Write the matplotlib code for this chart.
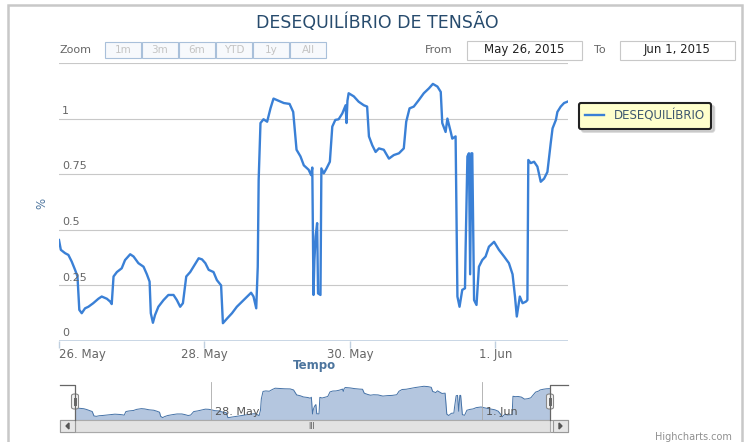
import matplotlib
matplotlib.use("Agg")
import matplotlib.pyplot as plt
from matplotlib.patches import Rectangle, FancyBboxPatch, Polygon
from matplotlib.lines import Line2D

# hours since 26 May 2015 00:00 and imbalance in %
horas = [0, 0.6, 2.0, 3.1, 4.2, 5.3, 6.1, 6.7, 7.5, 8.6, 9.7, 11.3, 13.0, 14.1, 15.8,
         16.9, 17.4, 18.0, 19.1, 20.7, 21.8, 23.5, 24.6, 26.2, 27.9, 29.0, 29.9, 30.3,
         31.0, 31.7, 32.8, 34.5, 36.1, 37.8, 38.9, 40.0, 40.9, 42.0, 43.3, 44.4, 46.1,
         47.2, 48.3, 49.4, 51.0, 52.1, 53.5, 54.1, 55.4, 57.1, 58.7, 60.4, 62.1, 63.4,
         64.2, 65.1, 65.6, 65.9, 66.5, 67.5, 68.7, 69.8, 70.8, 72.5, 74.2, 76.1, 77.3,
         78.4, 79.7, 80.8, 82.4, 83.2, 83.6, 84.0, 84.3, 84.7, 85.2, 85.5, 86.3, 86.6,
         87.4, 88.3, 89.4, 90.2, 91.2, 92.3, 93.5, 94.6, 94.9, 95.2, 95.6, 97.3, 98.9,
         100.6, 101.7, 102.3, 103.4, 104.5, 105.6, 107.2, 108.9, 110.5, 112.2, 113.8,
         114.6, 115.7, 117.1, 118.8, 120.4, 122.1, 123.4, 124.9, 126.0, 126.5, 127.6,
         128.2, 129.3, 129.8, 130.9, 131.5, 132.2, 133.1, 134.0, 134.2, 134.8, 135.3,
         135.7, 136.1, 136.4, 137.0, 137.8, 138.6, 139.7, 140.8, 141.9, 143.6, 145.2,
         146.9, 148.5, 149.7, 150.5, 151.1, 152.1, 153.0, 154.1, 154.6, 154.9, 155.7,
         156.8, 157.9, 159.0, 160.1, 161.2, 162.3, 162.9, 164.0, 164.5, 165.6, 166.7,
         167.8]
desequilibrio = [0.454, 0.41, 0.395, 0.387, 0.357, 0.32, 0.29, 0.14, 0.125, 0.147, 0.154,
                 0.17, 0.19, 0.20, 0.19, 0.177, 0.166, 0.29, 0.31, 0.327, 0.364, 0.39,
                 0.38, 0.35, 0.334, 0.30, 0.267, 0.125, 0.082, 0.117, 0.154, 0.184, 0.207,
                 0.207, 0.184, 0.154, 0.17, 0.29, 0.31, 0.334, 0.372, 0.367, 0.35, 0.32,
                 0.31, 0.274, 0.25, 0.08, 0.10, 0.125, 0.154, 0.177, 0.20, 0.217, 0.20,
                 0.147, 0.334, 0.724, 0.98, 0.997, 0.986, 1.046, 1.09, 1.08, 1.07, 1.066,
                 1.03, 0.86, 0.83, 0.79, 0.77, 0.746, 0.78, 0.207, 0.364, 0.47, 0.53,
                 0.214, 0.207, 0.776, 0.754, 0.776, 0.806, 0.964, 0.994, 0.997, 1.023,
                 1.06, 0.98, 1.08, 1.114, 1.10, 1.076, 1.06, 1.054, 0.92, 0.88, 0.85,
                 0.866, 0.86, 0.82, 0.836, 0.844, 0.866, 0.986, 1.046, 1.054, 1.084,
                 1.114, 1.136, 1.156, 1.144, 1.12, 0.98, 0.94, 1.00, 0.94, 0.91, 0.92,
                 0.20, 0.154, 0.23, 0.237, 0.41, 0.83, 0.844, 0.30, 0.844, 0.844, 0.184,
                 0.162, 0.334, 0.364, 0.38, 0.424, 0.446, 0.41, 0.38, 0.35, 0.30, 0.20,
                 0.11, 0.20, 0.17, 0.177, 0.184, 0.814, 0.80, 0.806, 0.784, 0.716, 0.73,
                 0.76, 0.89, 0.956, 0.994, 1.03, 1.054, 1.07, 1.076]

ticks_x = [0, 48, 96, 144]
rotulos_x = ['26. May', '28. May', '30. May', '1. Jun']
ticks_y = [0, 0.25, 0.5, 0.75, 1]
rotulos_y = ['0', '0.25', '0.5', '0.75', '1']
nav_ticks = [48, 144]
nav_rotulos = ['28. May', '1. Jun']

W, H = 749, 442
fig = plt.figure(figsize=(W / 100, H / 100), dpi=100)
fig.patch.set_facecolor('white')


def fx(px):
    return px / W


def fy(py):
    return 1 - py / H


cor_linha = '#3a80d6'
cinza = '#666666'

# moldura externa
fig.add_artist(Rectangle((fx(8), fy(445)), fx(734), fy(5) - fy(445), fill=False,
                         edgecolor='#c8c8c8', linewidth=1.8, transform=fig.transFigure))

# grafico principal
ax = fig.add_axes([fx(59), fy(341), fx(568 - 59), fy(63) - fy(341)])
ax.plot(horas, desequilibrio, color=cor_linha, linewidth=1.7, label='DESEQUILÍBRIO')
ax.set_xlim(0, 168)
ax.set_ylim(0, 1.25)
for s in ax.spines.values():
    s.set_visible(False)
for v in [0.25, 0.5, 0.75, 1.0, 1.25]:
    ax.axhline(v, color='#c8c8c8', linewidth=0.8, zorder=0)
ax.axhline(0, color='#c0d0e0', linewidth=1.2, zorder=0)
ax.set_yticks([])
ax.set_xticks(ticks_x)
ax.set_xticklabels([])
ax.tick_params(axis='x', length=5, color='#c0d0e0', width=1, direction='out')
for t, r in zip(ticks_y, rotulos_y):
    ax.annotate(r, xy=(0, t), xycoords=('axes fraction', 'data'), xytext=(2, 2),
                textcoords='offset points', ha='left', va='bottom', fontsize=8, color=cinza)
for t, r in zip(ticks_x, rotulos_x):
    ha = 'left' if t == 0 else 'center'
    ax.annotate(r, xy=(t, 0), xycoords=('data', 'axes fraction'), xytext=(0, -5),
                textcoords='offset points', ha=ha, va='top', fontsize=8.5, color=cinza)
fig.text(fx(314), fy(366), 'Tempo', ha='center', va='center', fontsize=8.5,
         fontweight='bold', color='#4d759e')
fig.text(fx(42), fy(203), '%', ha='center', va='center', fontsize=8.5,
         rotation=90, color='#4d759e')

leg = ax.legend(loc='upper left', bbox_to_anchor=(fx(579), fy(103)), bbox_transform=fig.transFigure,
                borderaxespad=0, frameon=True, fancybox=True,
                shadow={'color': '#bbbbbb', 'alpha': 0.6}, fontsize=8.5,
                handlelength=1.6, borderpad=0.55, labelcolor='#3e576f')
leg.get_frame().set_facecolor('#ffffcc')
leg.get_frame().set_edgecolor('#222222')
leg.get_frame().set_linewidth(1.5)
leg.get_frame().set_alpha(1)

# titulo e seletor de intervalo
fig.text(fx(377), fy(22), 'DESEQUILÍBRIO DE TENSÃO', ha='center', va='center',
         fontsize=12.5, color='#274b6d')
fig.text(fx(60), fy(50), 'Zoom', ha='left', va='center', fontsize=8, color=cinza)
botoes = ['1m', '3m', '6m', 'YTD', '1y', 'All']
bx = 105
for b in botoes:
    fig.add_artist(Rectangle((fx(bx), fy(58)), fx(36), fy(42) - fy(58), facecolor='#f7f9fc',
                             edgecolor='#a9c0da', linewidth=0.8, transform=fig.transFigure))
    fig.text(fx(bx + 18), fy(50), b, ha='center', va='center', fontsize=7.5, color='#c4c4c4')
    bx += 37
fig.text(fx(425), fy(50), 'From', ha='left', va='center', fontsize=8, color=cinza)
fig.text(fx(594), fy(50), 'To', ha='left', va='center', fontsize=8, color=cinza)
for x0, txt in [(467, 'May 26, 2015'), (620, 'Jun 1, 2015')]:
    fig.add_artist(Rectangle((fx(x0), fy(60)), fx(115), fy(41) - fy(60), facecolor='white',
                             edgecolor='#c8c8c8', linewidth=0.8, transform=fig.transFigure))
    fig.text(fx(x0 + 57), fy(50), txt, ha='center', va='center', fontsize=8.5, color='#222222')

# navegador
nav = fig.add_axes([fx(75), fy(420), fx(550 - 75), fy(385) - fy(420)])
nav.fill_between(horas, desequilibrio, 0, color='#b4c6df', linewidth=0)
nav.plot(horas, desequilibrio, color='#4572a7', linewidth=0.7)
nav.set_xlim(0, 168)
nav.set_ylim(0, 1.2)
nav.axis('off')
for t, r in zip(nav_ticks, nav_rotulos):
    nav.axvline(t, color='#aaaaaa', linewidth=0.6, ymax=1.1, clip_on=False)
    nav.annotate(r, xy=(t, 0), xycoords=('data', 'axes fraction'), xytext=(3, 2),
                 textcoords='offset points', ha='left', va='bottom', fontsize=8, color='#555555')
fig.add_artist(Line2D([fx(60), fx(75), fx(75)], [fy(385), fy(385), fy(420)],
                      color='#666666', linewidth=0.9, transform=fig.transFigure))
fig.add_artist(Line2D([fx(568), fx(550), fx(550)], [fy(385), fy(385), fy(420)],
                      color='#666666', linewidth=0.9, transform=fig.transFigure))
for hx in [75, 550]:
    fig.add_artist(FancyBboxPatch((fx(hx - 3.5), fy(409)), fx(7), fy(394) - fy(409),
                                  boxstyle='round,pad=0,rounding_size=0.004', facecolor='#f2f2f2',
                                  edgecolor='#888888', linewidth=0.8, transform=fig.transFigure))
    for dx in (-1, 1):
        fig.add_artist(Line2D([fx(hx + dx), fx(hx + dx)], [fy(405), fy(398)],
                              color='#666666', linewidth=0.7, transform=fig.transFigure))

# barra de rolagem
fig.add_artist(Rectangle((fx(60), fy(432)), fx(508), fy(420) - fy(432), facecolor='#eeeeee',
                         edgecolor='#999999', linewidth=0.8, transform=fig.transFigure))
fig.add_artist(Rectangle((fx(75), fy(432)), fx(475), fy(420) - fy(432), facecolor='#e2e2e2',
                         edgecolor='#aaaaaa', linewidth=0.8, transform=fig.transFigure))
for x0 in [60, 553]:
    fig.add_artist(Rectangle((fx(x0), fy(432)), fx(15), fy(420) - fy(432), facecolor='#e6e6e6',
                             edgecolor='#999999', linewidth=0.8, transform=fig.transFigure))
fig.add_artist(Polygon([(fx(69), fy(423)), (fx(69), fy(429)), (fx(66), fy(426))], closed=True,
                       color='#555555', transform=fig.transFigure))
fig.add_artist(Polygon([(fx(559), fy(423)), (fx(559), fy(429)), (fx(562), fy(426))], closed=True,
                       color='#555555', transform=fig.transFigure))
fig.text(fx(312), fy(426.5), 'III', ha='center', va='center', fontsize=5.5, color='#555555')

fig.text(fx(732), fy(437), 'Highcharts.com', ha='right', va='center', fontsize=7, color='#909090')

fig.savefig('out.png', dpi=100)
